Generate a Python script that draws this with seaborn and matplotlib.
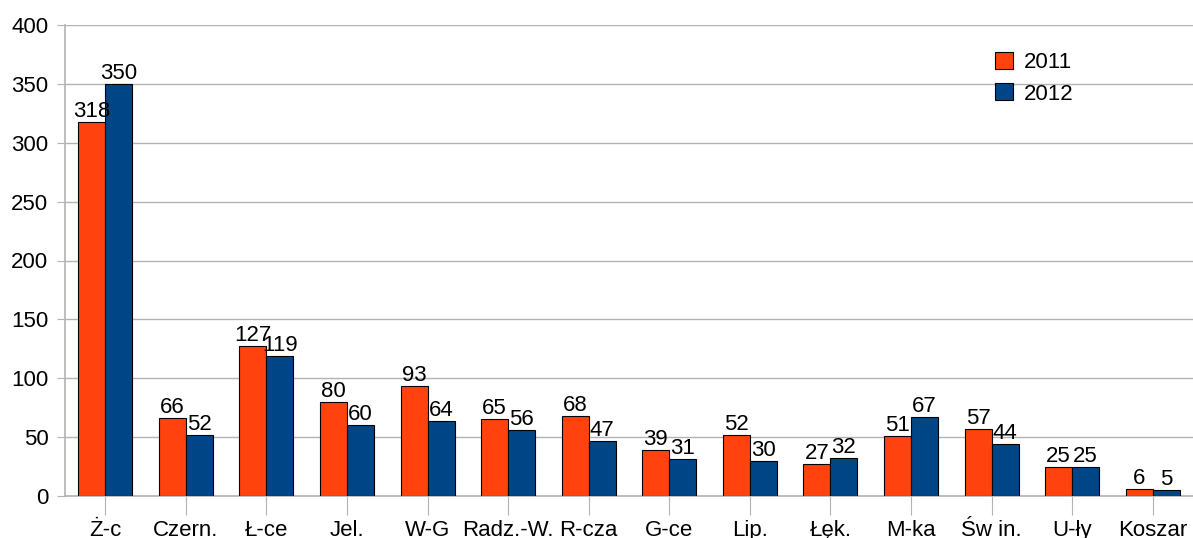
import pandas as pd
import matplotlib
matplotlib.use("Agg")
import matplotlib.pyplot as plt
import seaborn as sns

# Data
categories = ['Ż-c', 'Czern.', 'Ł-ce', 'Jel.', 'W-G', 'Radz.-W.', 'R-cza',
              'G-ce', 'Lip.', 'Łęk.', 'M-ka', 'Św in.', 'U-ły', 'Koszar']
values_2011 = [318, 66, 127, 80, 93, 65, 68, 39, 52, 27, 51, 57, 25, 6]
values_2012 = [350, 52, 119, 60, 64, 56, 47, 31, 30, 32, 67, 44, 25, 5]
years = ['2011', '2012']
colors = ['#FF420E', '#004586']

df = pd.DataFrame({
    'cat': categories * 2,
    'val': values_2011 + values_2012,
    'year': [years[0]] * len(categories) + [years[1]] * len(categories),
})

sns.set_style('white')
plt.rcParams['font.family'] = ['Liberation Sans', 'DejaVu Sans']
plt.rcParams['text.color'] = 'black'
plt.rcParams['xtick.labelcolor'] = 'black'
plt.rcParams['ytick.labelcolor'] = 'black'

fig = plt.figure(figsize=(11.93, 5.38), dpi=100)
ax = fig.add_axes([65 / 1193, 42 / 538, 1128 / 1193, 471 / 538])

sns.barplot(data=df, x='cat', y='val', hue='year', palette=colors,
            width=0.67, saturation=1, edgecolor='black', linewidth=0.8,
            ax=ax, zorder=3)

for cont in ax.containers:
    ax.bar_label(cont, fontsize=16, padding=0, color='black')

ax.set_ylim(0, 400)
ax.set_xlim(-0.5, len(categories) - 0.5)
ax.set_yticks(range(0, 401, 50))
ax.yaxis.grid(True, color='#b3b3b3', linewidth=1, zorder=0)
ax.xaxis.grid(False)
ax.set_xlabel('')
ax.set_ylabel('')

for side in ['top', 'right']:
    ax.spines[side].set_visible(False)
for side in ['left', 'bottom']:
    ax.spines[side].set_color('#b3b3b3')
    ax.spines[side].set_linewidth(1.2)

ax.tick_params(axis='y', labelsize=16, length=6, color='#b3b3b3', left=True, pad=6)
ax.tick_params(axis='x', labelsize=16, length=14, color='#b3b3b3', bottom=True, pad=3)

ax.legend(loc='upper right', bbox_to_anchor=(0.912, 0.985), frameon=False,
          fontsize=16, handlelength=0.8, handleheight=0.8, labelspacing=0.45,
          handletextpad=0.5)

fig.savefig('out.png', dpi=100)
